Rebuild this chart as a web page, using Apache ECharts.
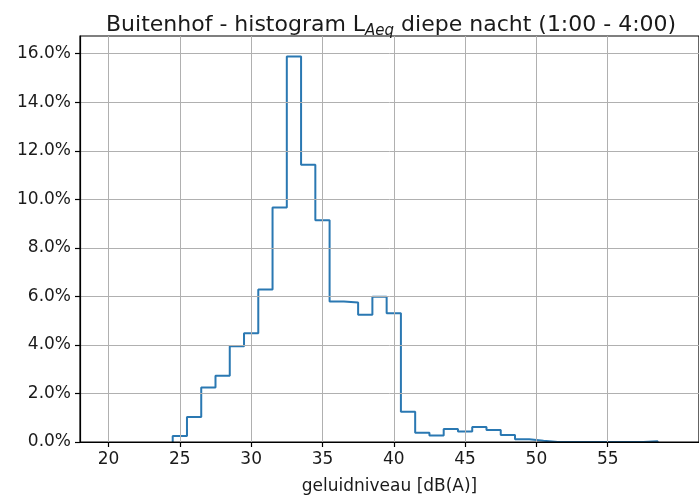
<!DOCTYPE html>
<html>
<head>
<meta charset="utf-8">
<script src="https://cdn.jsdelivr.net/npm/echarts@6/dist/echarts.min.js"></script>
<style>
html,body{margin:0;padding:0;background:#fff;}
#chart{width:699px;height:502px;}
</style>
</head>
<body>
<div id="chart"></div>
<script>
// bin edges (1 dB wide) en percentage per bin
var binEdges = [24.5,25.5,26.5,27.5,28.5,29.5,30.5,31.5,32.5,33.5,34.5,35.5,36.5,37.5,38.5,39.5,40.5,41.5,42.5,43.5,44.5,45.5,46.5,47.5,48.5,49.5,50.5,51.5,52.5,53.5,54.5,55.5,56.5,57.5,58.5];
var percentages = [0.25,1.03,2.25,2.73,3.95,4.48,6.28,9.66,15.89,11.42,9.14,5.79,5.75,5.24,5.99,5.31,1.25,0.38,0.27,0.54,0.43,0.62,0.49,0.29,0.11,0.05,0,0,0,0,0,0,0,0.03];
var xTicks = [20,25,30,35,40,45,50,55];
var yTicks = [0,2,4,6,8,10,12,14,16];

// step-omtrek zoals histtype='step'
var outline = [[binEdges[0], 0]];
for (var i = 0; i < percentages.length; i++) {
	outline.push([binEdges[i], percentages[i]]);
	outline.push([binEdges[i + 1], percentages[i]]);
}
outline.push([binEdges[binEdges.length - 1], 0]);

var font = 'DejaVu Sans';
var myChart = echarts.init(document.getElementById('chart'));
myChart.setOption({
	animation: false,
	title: {
		text: '{n|Buitenhof - histogram L}{s|Aeq}{n| diepe nacht (1:00 - 4:00)}',
		left: 101,
		top: 5,
		textStyle: {
			rich: {
				n: { fontFamily: font, fontSize: 22, fontWeight: 'normal', color: '#1a1a1a', verticalAlign: 'bottom', lineHeight: 26 },
				s: { fontFamily: font, fontSize: 15, fontWeight: 'normal', fontStyle: 'italic', color: '#1a1a1a', verticalAlign: 'bottom', lineHeight: 26, padding: [0, 0, -3, 0] }
			}
		}
	},
	grid: {
		left: 80,
		right: -2,
		top: 36,
		bottom: 60,
		show: true,
		borderColor: '#000',
		borderWidth: 1.2,
		z: 3
	},
	xAxis: {
		type: 'value',
		min: 18,
		max: 61.4,
		z: 3,
		name: 'geluidniveau [dB(A)]',
		nameLocation: 'middle',
		nameGap: 36,
		nameTextStyle: { fontFamily: font, fontSize: 17, color: '#1a1a1a' },
		axisLine: { show: true, lineStyle: { color: '#000', width: 1.2 } },
		axisTick: { show: true, inside: false, length: 5, customValues: xTicks, lineStyle: { color: '#000', width: 1.2 } },
		axisLabel: { customValues: xTicks, margin: 9, fontFamily: font, fontSize: 17, color: '#1a1a1a' },
		splitLine: { show: true, lineStyle: { color: '#b0b0b0', width: 1 } }
	},
	yAxis: {
		type: 'value',
		min: 0,
		max: 16.73,
		interval: 2,
		z: 3,
		axisLine: { show: true, lineStyle: { color: '#000', width: 1.2 } },
		axisTick: { show: true, inside: false, length: 5, customValues: yTicks, lineStyle: { color: '#000', width: 1.2 } },
		axisLabel: {
			customValues: yTicks,
			margin: 9,
			fontFamily: font,
			fontSize: 17,
			color: '#1a1a1a',
			formatter: function (v) { return v.toFixed(1) + '%'; }
		},
		splitLine: { show: true, lineStyle: { color: '#b0b0b0', width: 1 } }
	},
	series: [{
		type: 'line',
		data: outline,
		symbol: 'none',
		clip: true,
		z: 2,
		lineStyle: { color: '#2a78b2', width: 2 }
	}]
});
</script>
</body>
</html>
